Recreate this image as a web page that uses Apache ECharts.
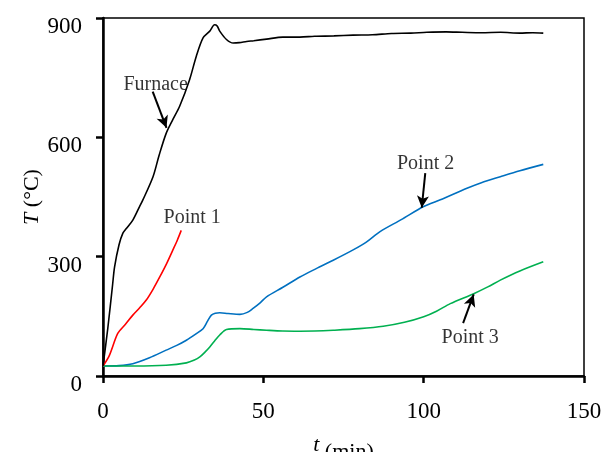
<!DOCTYPE html>
<html><head><meta charset="utf-8">
<script src="https://cdn.jsdelivr.net/npm/echarts@6/dist/echarts.min.js"></script>
<style>html,body{margin:0;padding:0;background:#fff;overflow:hidden}#c{width:604px;height:452px}</style>
</head><body><div id="c"></div>
<script>
const furnace = [[0,25],[1.5,120],[3,230],[3.6,274],[5,330],[6.2,359],[7.2,370],[9.3,392],[11.4,426],[12.4,442],[15.6,501],[17.5,555],[19.7,610],[21.8,645],[23.9,678],[27,745],[29.1,804],[31.2,850],[33.3,867],[34.8,883],[35.6,880],[36.4,867],[38.5,846],[40.6,837],[42.5,838],[44.8,841],[47,843],[51,847],[56.1,852],[61.4,852],[66,854],[72,855],[78,857],[84,858],[90,861],[96,862],[101,864],[107,865],[112,864],[118,863],[124,864],[130,862],[134,863],[137.3,862]];
const point1 = [[0,25],[2,52],[4.6,107],[7,130],[9.3,153],[11.5,172],[13.5,191],[15.6,218],[17.7,249],[19.8,282],[21.8,317],[23.2,342],[24.4,366]];
const point2 = [[0,25],[5,26],[9.3,31],[14.5,46],[19.7,65],[23,77],[26,90],[29,106],[31.2,119],[32.6,138],[33.8,153],[35,158],[36.4,159],[39,157],[42.7,155],[45,160],[46.8,170],[49,184],[51,199],[56.1,223],[61.4,249],[66.5,270],[71.8,291],[78,317],[82,336],[86.4,363],[93,393],[100,426],[105.2,443],[113.5,472],[118,486],[123.9,501],[130,516],[137.3,532]];
const point3 = [[0,25],[10,25],[19.7,27],[26,33],[28.5,40],[30.2,48],[31.8,60],[33.3,73],[34.8,88],[36.4,103],[38.5,117],[42.7,119],[47,117],[51,115],[56,113],[61.4,112.6],[66,113],[71.8,115],[80,119],[87.4,125],[94,135],[100,149],[104,163],[108.3,182],[115.6,207],[120,224],[123.9,241],[130,264],[137.3,287]];
const xTicks = [0,50,100,150];
const yTicks = [0,300,600,900];
const notes = [
  {name:'Furnace', text:[16.4,733], from:[15.5,715], to:[19.8,624]},
  {name:'Point 1', text:[27.8,397]},
  {name:'Point 2', text:[100.6,533], from:[100.5,510], to:[99.4,423]},
  {name:'Point 3', text:[114.5,97], from:[112.3,133], to:[115.6,205]}
];
const F = "'Liberation Serif','Times New Roman',serif";
const chart = echarts.init(document.getElementById('c'), null, {width:604, height:452});
function mk(name, data, color, z) {
  return {name, type:'line', data, showSymbol:false, smooth:0.3, lineStyle:{color, width:1.6}, z, animation:false};
}
const s = [mk('Furnace',furnace,'#000',5), mk('Point 1',point1,'#ff0000',4), mk('Point 2',point2,'#0070c0',3), mk('Point 3',point3,'#00b050',3)];
s.push({type:'scatter', data:notes.map(n=>({value:n.text, label:{formatter:n.name, color:'#000'}})), symbolSize:0, silent:true, animation:false,
  label:{show:true, position:'inside', color:'#000', fontFamily:F, fontSize:20},
  markLine:{silent:true, animation:false, symbol:['none','arrow'], symbolSize:[9,12], label:{show:false},
    lineStyle:{color:'#000', width:2, type:'solid'},
    data: notes.filter(n=>n.from).map(n=>[{coord:n.from},{coord:n.to}])}});
chart.setOption({
  animation:false,
  grid:{left:103, top:18, right:20, bottom:76, show:true, borderColor:'#000', borderWidth:1.5, containLabel:false, outerBoundsMode:'none'},
  xAxis:{type:'value', min:0, max:150, interval:50,
    name:'{i|t} (min)', nameLocation:'middle', nameGap:58, nameMoveOverlap:false,
    nameTextStyle:{fontFamily:F, fontSize:22, color:'#000', rich:{i:{fontFamily:F, fontStyle:'italic', fontSize:22, color:'#000', padding:[0,0,14,0]}}},
    axisLine:{show:true, onZero:false, lineStyle:{color:'#000', width:2.5}},
    axisTick:{show:true, inside:false, length:7, lineStyle:{color:'#000', width:2.5}},
    axisLabel:{fontFamily:F, fontSize:23, color:'#000', margin:24, formatter:v=>xTicks.includes(v)?String(v):''},
    splitLine:{show:false}},
  yAxis:{type:'value', min:0, max:900, interval:300,
    name:'{i|T} (°C)', nameLocation:'middle', nameGap:60, nameRotate:90, nameMoveOverlap:false,
    nameTextStyle:{fontFamily:F, fontSize:22, color:'#000', rich:{i:{fontFamily:F, fontStyle:'italic', fontSize:22, color:'#000'}}},
    axisLine:{show:true, lineStyle:{color:'#000', width:2.5}},
    axisTick:{show:true, inside:false, length:7, lineStyle:{color:'#000', width:2.5}},
    axisLabel:{fontFamily:F, fontSize:23, color:'#000', margin:21, verticalAlign:'top', lineHeight:18, formatter:v=>yTicks.includes(v)?String(v):''},
    splitLine:{show:false}},
  series:s
});
</script></body></html>
